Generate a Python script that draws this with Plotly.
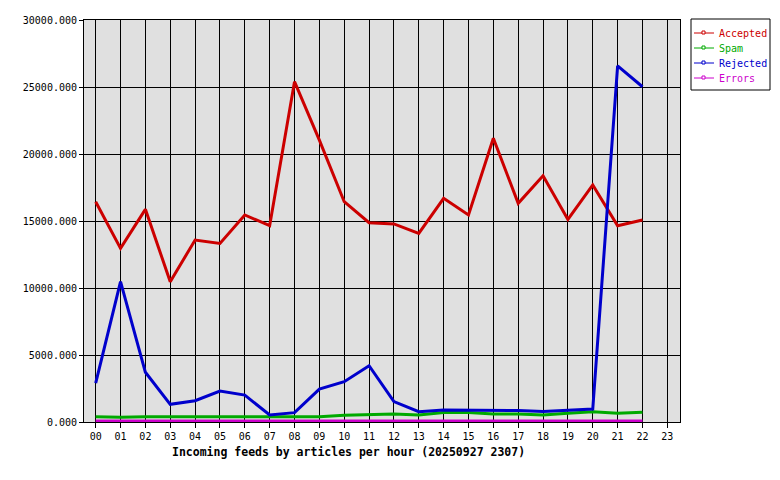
import plotly.graph_objects as go

hours = list(range(23))
hour_labels = ["%02d" % h for h in range(24)]

accepted = [16440, 12960, 15870, 10470, 13580, 13330, 15450, 14650, 25400, 21040, 16440, 14870,
            14780, 14080, 16690, 15450, 21170, 16320, 18380, 15120, 17690, 14650, 15070]
spam = [400, 350, 400, 400, 400, 400, 400, 400, 400, 400, 500, 550,
        600, 530, 700, 700, 600, 600, 530, 650, 770, 650, 730]
rejected = [2900, 10470, 3710, 1320, 1590, 2310, 2010, 520, 700, 2460, 3010, 4200,
            1520, 770, 900, 900, 900, 850, 780, 850, 970, 26570, 25020]
errors = [80] * 23

series = [("Accepted", accepted, "#cc0000"),
          ("Spam", spam, "#00aa00"),
          ("Rejected", rejected, "#0000cc"),
          ("Errors", errors, "#cc00cc")]

# page body has an 8px default margin; work in screen pixels and shift
OFF = 8
FW, FH = 772, 472
L, R, T, B = 84 - OFF, 680 - OFF, 20 - OFF, 422 - OFF
W, H = R - L, B - T


def px(x):
    return (x - OFF - L) / W


def py(y):
    return (B - (y - OFF)) / H


fig = go.Figure()
for name, vals, col in series:
    fig.add_trace(go.Scatter(x=hours, y=vals, mode="lines", line=dict(color=col, width=3),
                             name=name, showlegend=False, hoverinfo="skip"))

# legend box drawn manually (compact, like the original)
shapes = [dict(type="rect", xref="paper", yref="paper", x0=px(691), x1=px(770),
               y0=py(90), y1=py(19), line=dict(color="black", width=1), fillcolor="white",
               layer="above")]
annotations = []
for i, (name, vals, col) in enumerate(series):
    yy = 33 + 15 * i
    shapes.append(dict(type="line", xref="paper", yref="paper", x0=px(694), x1=px(714),
                       y0=py(yy), y1=py(yy), line=dict(color=col, width=1), layer="above"))
    shapes.append(dict(type="rect", xref="paper", yref="paper", x0=px(702), x1=px(705),
                       y0=py(yy + 1), y1=py(yy - 2), line=dict(color=col, width=1),
                       fillcolor="white", layer="above"))
    annotations.append(dict(text=name, x=px(717), y=py(yy), xref="paper", yref="paper",
                            showarrow=False, xanchor="left", yanchor="middle",
                            font=dict(size=10, color=col)))

font = "DejaVu Sans Mono"
annotations.append(dict(text="<b>Incoming feeds by articles per hour (20250927 2307)</b>",
                        x=px(348), y=py(452), xref="paper", yref="paper", showarrow=False,
                        xanchor="center", yanchor="middle", font=dict(size=11.5, family=font)))

fig.update_layout(
    width=FW, height=FH,
    margin=dict(l=L, r=FW - R, t=T, b=FH - B, autoexpand=False),
    paper_bgcolor="white", plot_bgcolor="#e0e0e0",
    font=dict(family=font, size=10, color="black"),
    showlegend=False,
    xaxis=dict(range=[-0.47, 23.51], tickvals=list(range(24)), ticktext=hour_labels,
               showgrid=True, gridcolor="black", gridwidth=1, zeroline=False,
               showline=True, linecolor="black", linewidth=1, mirror=True,
               ticks="outside", ticklen=5, tickcolor="black", tickfont=dict(size=10),
               automargin=False),
    yaxis=dict(range=[0, 30000], tickvals=[0, 5000, 10000, 15000, 20000, 25000, 30000],
               tickformat=".3f", showgrid=True, gridcolor="black", gridwidth=1,
               zeroline=False, showline=True, linecolor="black", linewidth=1, mirror=True,
               ticks="outside", ticklen=4, tickcolor="black", tickfont=dict(size=10),
               automargin=False),
    shapes=shapes,
    annotations=annotations,
)

fig.write_html("out.html")
